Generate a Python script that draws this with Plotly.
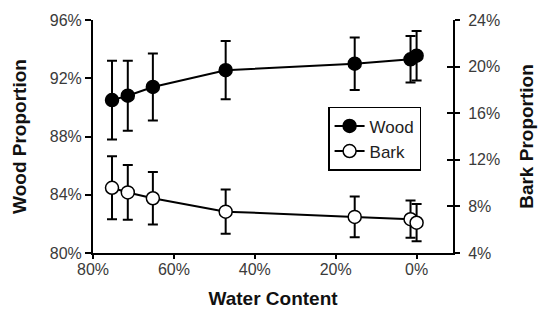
import plotly.graph_objects as go

water = [75.3, 71.4, 65.2, 47.2, 15.3, 1.5, 0.0]
wood = [90.5, 90.8, 91.4, 92.55, 93.0, 93.3, 93.55]
wood_err = [2.7, 2.4, 2.3, 2.0, 1.8, 1.6, 1.7]
bark = [9.6, 9.2, 8.7, 7.55, 7.1, 6.9, 6.6]
bark_err = [2.7, 2.35, 2.25, 1.9, 1.75, 1.6, 1.6]

x_ticks = [80, 60, 40, 20, 0]
wood_ticks = [80, 84, 88, 92, 96]
bark_ticks = [4, 8, 12, 16, 20, 24]

FONT = "Liberation Sans, Arial, Helvetica, sans-serif"
TICKC = "#3a3a3a"
TITLEC = "#111"

fig = go.Figure()
fig.add_trace(go.Scatter(
    x=water, y=wood, name="Wood", mode="lines+markers",
    line=dict(color="black", width=2),
    marker=dict(size=13, color="black", line=dict(color="black", width=1.5)),
    error_y=dict(type="data", array=wood_err, color="black", thickness=2, width=5),
))
fig.add_trace(go.Scatter(
    x=water, y=bark, name="Bark", mode="lines+markers", yaxis="y2",
    line=dict(color="black", width=2),
    marker=dict(size=13, color="white", line=dict(color="black", width=1.5)),
    error_y=dict(type="data", array=bark_err, color="black", thickness=2, width=5),
))
fig.add_trace(go.Scatter(x=[None], y=[None], yaxis="y3", showlegend=False, hoverinfo="skip"))

fig.update_layout(
    width=539, height=312,
    margin=dict(l=93, r=86, t=20, b=59),
    paper_bgcolor="white", plot_bgcolor="white",
    font=dict(family=FONT, size=16, color=TICKC),
    showlegend=True,
    legend=dict(x=0.653, y=0.627, xanchor="left", yanchor="top",
                bordercolor="black", borderwidth=1.5, bgcolor="white",
                font=dict(family=FONT, size=17, color="#222"),
                tracegroupgap=0, itemwidth=30),
    xaxis=dict(
        range=[80, -9], tickvals=x_ticks, ticktext=[f"{v}%" for v in x_ticks],
        showline=True, linecolor="black", linewidth=2, ticks="outside",
        ticklen=4, tickwidth=2, tickcolor="black", showgrid=False, zeroline=False,
        automargin=False, ticklabelstandoff=-3,
        title=dict(text="<b>Water Content</b>", font=dict(family=FONT, size=19, color=TITLEC), standoff=14),
    ),
    yaxis=dict(
        range=[80, 96], tickvals=wood_ticks, ticktext=[f"{v}%" for v in wood_ticks],
        showline=True, linecolor="black", linewidth=2, ticks="outside",
        ticklen=6, tickwidth=2, tickcolor="black", showgrid=False, zeroline=False,
        automargin=False,
        title=dict(text="<b>Wood Proportion</b>", font=dict(family=FONT, size=19, color=TITLEC), standoff=18),
    ),
    yaxis2=dict(
        range=[4, 24], tickvals=bark_ticks, ticktext=[f"{v}%" for v in bark_ticks],
        overlaying="y", side="right",
        showline=True, linecolor="black", linewidth=2, ticks="outside",
        ticklen=5, tickwidth=2, tickcolor="black", showgrid=False, zeroline=False,
        automargin=False, ticklabelstandoff=5,
        title=dict(text="<b>Bark Proportion</b>", font=dict(family=FONT, size=19, color=TITLEC), standoff=20),
    ),
    yaxis3=dict(
        range=[4, 24], tickvals=bark_ticks, overlaying="y", side="right",
        showline=False, ticks="inside", ticklen=6, tickwidth=2, tickcolor="black",
        showticklabels=False, showgrid=False, zeroline=False, automargin=False,
    ),
)

fig.write_html("out.html", config={"displayModeBar": False},
               post_script="document.body.style.margin='0';")
